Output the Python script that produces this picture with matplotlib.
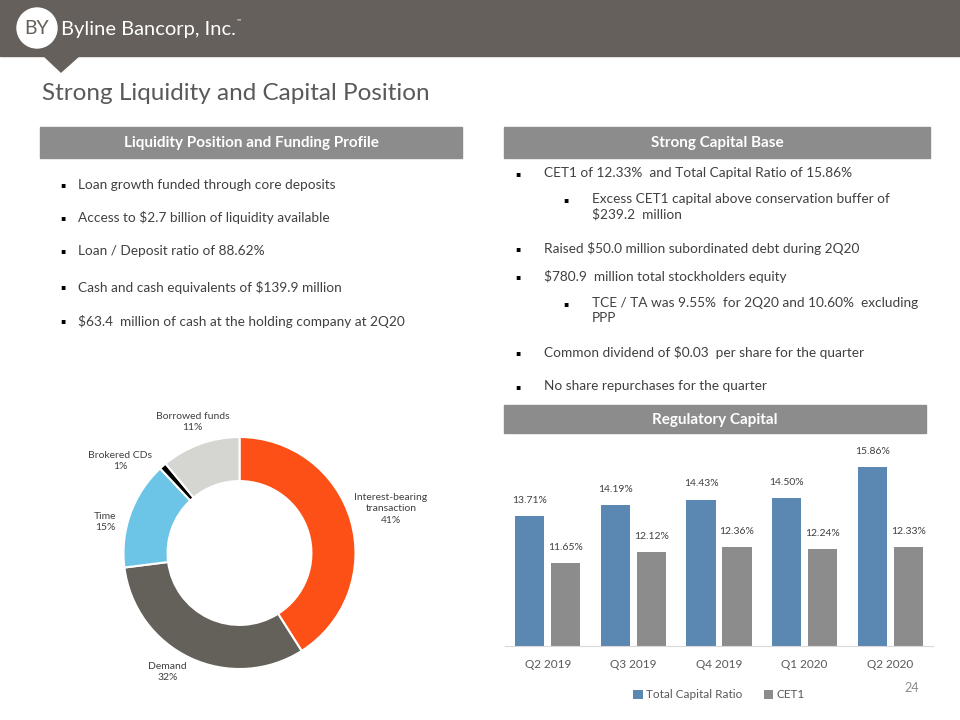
import matplotlib
matplotlib.use("Agg")
import matplotlib.pyplot as plt
from matplotlib.patches import Rectangle, Circle, Polygon
import numpy as np

plt.rcParams['font.family'] = ['Lato', 'DejaVu Sans']

# funding mix (donut)
fund_labels = ['Interest-bearing\ntransaction', 'Demand', 'Time', 'Brokered CDs', 'Borrowed funds']
fund_pct = [41, 32, 15, 1, 11]
fund_colors = ['#fc5016', '#64605a', '#6cc4e6', '#000000', '#d5d5d2']

# regulatory capital (bars)
quarters = ['Q2 2019', 'Q3 2019', 'Q4 2019', 'Q1 2020', 'Q2 2020']
total_capital = [13.71, 14.19, 14.43, 14.50, 15.86]
cet1 = [11.65, 12.12, 12.36, 12.24, 12.33]

left_bullets = [
    'Loan growth funded through core deposits',
    'Access to $2.7 billion of liquidity available',
    'Loan / Deposit ratio of 88.62%',
    'Cash and cash equivalents of $139.9 million',
    '$63.4  million of cash at the holding company at 2Q20',
]
right_bullets = [
    (0, 'CET1 of 12.33%  and Total Capital Ratio of 15.86%'),
    (1, 'Excess CET1 capital above conservation buffer of\n$239.2  million'),
    (0, 'Raised $50.0 million subordinated debt during 2Q20'),
    (0, '$780.9  million total stockholders equity'),
    (1, 'TCE / TA was 9.55%  for 2Q20 and 10.60%  excluding\nPPP'),
    (0, 'Common dividend of $0.03  per share for the quarter'),
    (0, 'No share repurchases for the quarter'),
]

fig = plt.figure(figsize=(9.6, 7.2), dpi=100)
bg = fig.add_axes([0, 0, 1, 1])
bg.set_xlim(0, 960)
bg.set_ylim(720, 0)
bg.axis('off')

# header band + logo
bg.add_patch(Rectangle((0, 0), 960, 56, color='#65605b'))
bg.add_patch(Polygon([[43, 55], [80, 55], [61, 72]], closed=True, color='#65605b'))
bg.add_patch(Circle((37, 28), 20, color='white'))
bg.text(37, 29, 'BY', ha='center', va='center', fontsize=14, color='#65605b')
bg.text(61, 29, 'Byline Bancorp, Inc.', ha='left', va='center', fontsize=14.5, color='white')
bg.text(237, 21, '\u2122', fontsize=4, color='white', va='center')

bg.text(42, 93, 'Strong Liquidity and Capital Position', fontsize=17.5, color='#595959',
        va='center', ha='left')

# section headers
hdr_col = '#8c8c8c'
for x0, x1, y0, y1, txt in [(40, 462, 127, 158, 'Liquidity Position and Funding Profile'),
                            (504, 930, 127, 158, 'Strong Capital Base'),
                            (504, 926, 405, 433, 'Regulatory Capital')]:
    bg.add_patch(Rectangle((x0, y0), x1 - x0, y1 - y0, color=hdr_col))
    bg.text((x0 + x1) / 2, (y0 + y1) / 2 + 1, txt, ha='center', va='center',
            fontsize=11, fontweight='bold', color='white')

txt_col = '#404040'
left_y = [185, 218, 251, 287, 321]
for y, t in zip(left_y, left_bullets):
    bg.text(63, y, '\u25aa', family='DejaVu Sans', fontsize=5.5, ha='center', va='center', color='black')
    bg.text(78, y, t, fontsize=9.8, ha='left', va='center', color=txt_col)

right_y = [174, 200, 249, 277, 304, 353, 387]
for y, (lvl, t) in zip(right_y, right_bullets):
    bx = 518 if lvl == 0 else 566
    tx = 544 if lvl == 0 else 592
    bg.text(bx, y, '\u25aa', family='DejaVu Sans', fontsize=5.5, ha='center', va='center', color='black')
    bg.text(tx, y - 7, t, fontsize=9.8, ha='left', va='top', color=txt_col, linespacing=1.3)

bg.text(912, 688, '24', fontsize=9, color='#8c8c8c', ha='center', va='center')

# donut
r_px = 116
cx, cy = 239.5, 553
lim = 1.45
w = 2 * lim * r_px
dax = fig.add_axes([(cx - w / 2) / 960, (720 - cy - w / 2) / 720, w / 960, w / 720])
wedges, _ = dax.pie(fund_pct, colors=fund_colors, startangle=90, counterclock=False,
                    wedgeprops=dict(width=0.38, edgecolor='white', linewidth=1.5))
dax.set_xlim(-lim, lim)
dax.set_ylim(-lim, lim)
dax.set_aspect('equal')
dax.axis('off')
label_dist = [1.36, 1.2, 1.19, 1.3, 1.2]
label_shift = [0, -6, 7, 11, 0]
for wdg, lab, pct, d, s in zip(wedges, fund_labels, fund_pct, label_dist, label_shift):
    ang = np.deg2rad((wdg.theta1 + wdg.theta2) / 2 + s)
    dax.text(d * np.cos(ang), d * np.sin(ang), f'{lab}\n{pct}%', ha='center', va='center',
             fontsize=7.5, color=txt_col, linespacing=1.3)

# bars
bax = fig.add_axes([505 / 960, 74 / 720, 428 / 960, 205 / 720])
x = np.arange(len(quarters))
bw = 0.34
off = 0.21
b1 = bax.bar(x - off, total_capital, bw, color='#5b87b3', label='Total Capital Ratio')
b2 = bax.bar(x + off, cet1, bw, color='#8c8c8c', label='CET1')
for bars, vals in [(b1, total_capital), (b2, cet1)]:
    for b, v in zip(bars, vals):
        bax.annotate(f'{v:.2f}%', (b.get_x() + b.get_width() / 2, v), xytext=(0, 8),
                     textcoords='offset points', ha='center', va='bottom', fontsize=7.5, color=txt_col)
bax.set_ylim(8, 17)
bax.set_xlim(-0.5, 4.5)
bax.set_xticks(x)
bax.set_xticklabels(quarters, fontsize=8.5, color='#595959')
bax.tick_params(axis='x', length=0, pad=9)
bax.set_yticks([])
for sp in ['top', 'right', 'left']:
    bax.spines[sp].set_visible(False)
bax.spines['bottom'].set_color('#d9d9d9')
bax.legend(loc='upper center', bbox_to_anchor=(0.5, -0.16), ncol=2, frameon=False,
           fontsize=8.5, handlelength=0.8, handleheight=0.8, handletextpad=0.3,
           columnspacing=1.8, labelcolor='#595959')

fig.savefig('out.png', dpi=100)
